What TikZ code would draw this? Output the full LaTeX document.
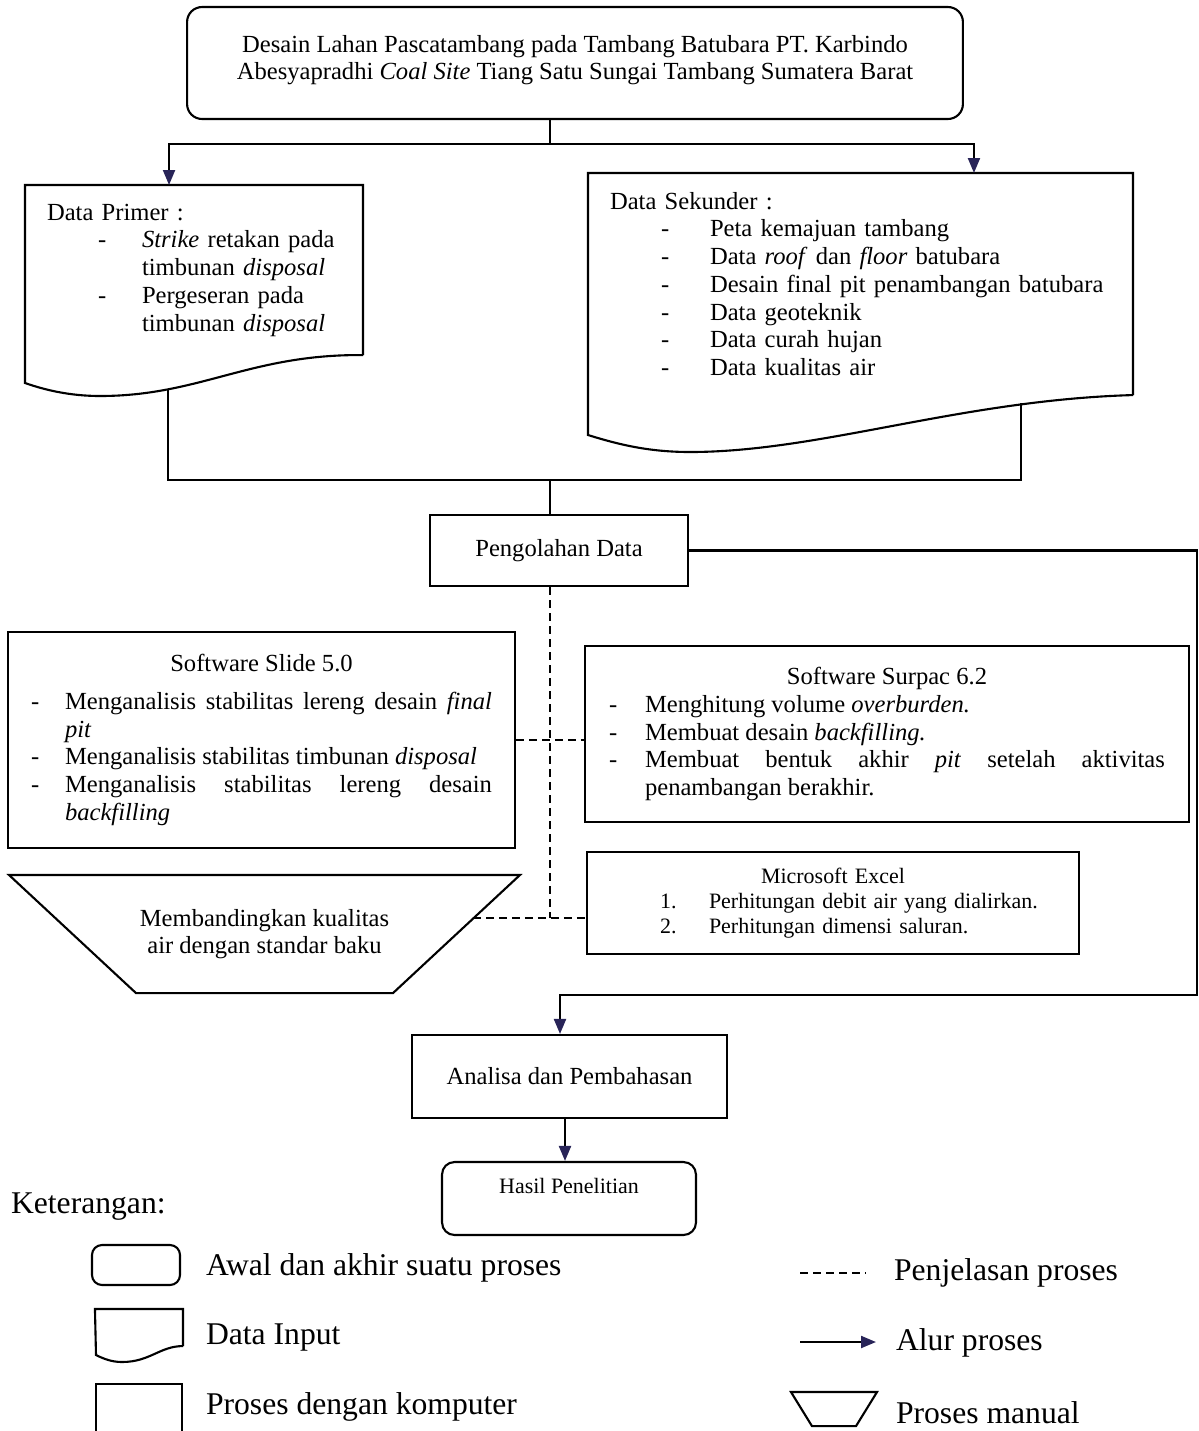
\documentclass[tikz,border=0pt]{standalone}
\usepackage{fontspec}
\setmainfont{Liberation Serif}
\usetikzlibrary{arrows.meta}
\definecolor{tipblue}{RGB}{40,36,88}
\newcommand{\bodyfont}{\fontsize{14}{15.8}\selectfont}
\newcommand{\smallerfont}{\fontsize{12.5}{14.2}\selectfont}
\newcommand{\legfont}{\fontsize{18}{21}\selectfont}
% one dash item with hanging indent
\newcommand{\dashitem}[2]{\par\noindent\hangindent=#1\hangafter=1 \makebox[#1][l]{-}#2\par}
\begin{document}
\begin{tikzpicture}[x=0.02cm, y=-0.02cm, line width=1.2pt, font=\bodyfont,
    procbox/.style={draw, inner sep=0pt},
    termbox/.style={draw, rounded corners=0.3cm, inner sep=0pt},
    docbox/.style={inner sep=0pt, inner xsep=0.42cm, align=left},
    legtext/.style={font=\legfont, anchor=west, inner sep=0pt},
    link/.style={line width=1.2pt},
    flow/.style={line width=1.2pt, -{Triangle[length=0.3cm,width=0.24cm,color=tipblue]}},
    expl/.style={line width=1.2pt, dash pattern=on 0.16cm off 0.1cm}]
    \useasboundingbox (0,0) rectangle (1199,1431);

    % the title
    \node[termbox, minimum width=15.52cm, minimum height=2.24cm, align=center,
          font=\fontsize{14}{15.3}\selectfont] (title) at (575,63)
        {Desain Lahan Pascatambang pada Tambang Batubara PT. Karbindo\\
         Abesyapradhi \textit{Coal Site} Tiang Satu Sungai Tambang Sumatera Barat\\[-0.3cm]};

    % the input data (outlines drawn below)
    \node[docbox, text width=5.88cm, minimum height=3.36cm, anchor=north west] (primer) at (25,185)
        {Data Primer :\\
         \hspace*{1.02cm}\makebox[0.88cm][l]{-}\textit{Strike} retakan pada\\
         \hspace*{1.9cm}timbunan \textit{disposal}\\
         \hspace*{1.02cm}\makebox[0.88cm][l]{-}Pergeseran pada\\
         \hspace*{1.9cm}timbunan \textit{disposal}};
    \node[docbox, text width=10.02cm, minimum height=4.4cm, anchor=north west] (sekunder) at (588,173)
        {Data Sekunder :\\
         \hspace*{1.02cm}\makebox[0.98cm][l]{-}Peta kemajuan tambang\\
         \hspace*{1.02cm}\makebox[0.98cm][l]{-}Data \textit{roof} dan \textit{floor} batubara\\
         \hspace*{1.02cm}\makebox[0.98cm][l]{-}Desain final pit penambangan batubara\\
         \hspace*{1.02cm}\makebox[0.98cm][l]{-}Data geoteknik\\
         \hspace*{1.02cm}\makebox[0.98cm][l]{-}Data curah hujan\\
         \hspace*{1.02cm}\makebox[0.98cm][l]{-}Data kualitas air};
    \draw[link] (primer.south east) -- (primer.north east) -- (primer.north west) -- (25,383)
        .. controls (45,390) and (70,396) .. (100,396)
        .. controls (200,396) and (250,354) .. (primer.south east);
    \draw[link] (sekunder.south east) -- (sekunder.north east) -- (sekunder.north west) -- (588,435)
        .. controls (620,445) and (650,452) .. (690,452)
        .. controls (820,452) and (960,400) .. (sekunder.south east);

    % processing
    \node[procbox, minimum width=5.16cm, minimum height=1.42cm] (proc) at (559,550.5) {Pengolahan Data};

    \node[procbox, minimum width=10.14cm, minimum height=4.32cm, text width=9.22cm, align=justify] (slide) at (261.5,740)
        {\centerline{Software Slide 5.0}\vspace{0.2cm}
         \dashitem{0.68cm}{Menganalisis stabilitas lereng desain \textit{final}\linebreak \textit{pit}}
         \dashitem{0.68cm}{Menganalisis stabilitas timbunan \textit{disposal}}
         \dashitem{0.68cm}{Menganalisis stabilitas lereng desain\linebreak \textit{backfilling}}};
    \node[procbox, minimum width=12.08cm, minimum height=3.52cm, text width=11.12cm, align=justify] (surpac) at (887,734)
        {\centerline{Software Surpac 6.2}
         \dashitem{0.72cm}{Menghitung volume \textit{overburden.}}
         \dashitem{0.72cm}{Membuat desain \textit{backfilling.}}
         \dashitem{0.72cm}{Membuat bentuk akhir \textit{pit} setelah aktivitas\linebreak penambangan berakhir.}};
    \node[procbox, minimum width=9.84cm, minimum height=2.04cm, text width=9.84cm, align=left,
          font=\smallerfont] (excel) at (833,903)
        {\centerline{Microsoft Excel}
         \hspace*{1.46cm}\makebox[0.98cm][l]{1.}Perhitungan debit air yang dialirkan.\\
         \hspace*{1.46cm}\makebox[0.98cm][l]{2.}Perhitungan dimensi saluran.};

    \node[inner sep=0pt, minimum width=10.18cm, minimum height=2.32cm, align=center] (manual) at (264.5,934)
        {Membandingkan kualitas\\air dengan standar baku};
    \draw[link] (manual.north west) -- (manual.north east) -- ([xshift=-2.54cm]manual.south east)
        -- ([xshift=2.54cm]manual.south west) -- cycle;

    % results
    \node[procbox, minimum width=6.3cm, minimum height=1.66cm] (analisa) at (569.5,1076.5) {Analisa dan Pembahasan};
    \node[termbox, rounded corners=0.25cm, minimum width=5.08cm, minimum height=1.46cm, text depth=0.5cm,
          font=\smallerfont] (hasil) at (569,1198.5) {Hasil Penelitian};

    % the flow lines
    \draw[link] ([xshift=-0.5cm]title.south) -- ++(0,24) coordinate (split);
    \draw[flow] (split) -| ([xshift=-0.5cm]primer.north);
    \draw[flow] (split) -| ([xshift=2.27cm]sekunder.north);

    \coordinate (pbot) at (168,389);
    \coordinate (sbot) at (1021,403);
    \coordinate (merge) at (550,480);
    \draw[link] (pbot) -- (pbot |- merge) -- (sbot |- merge) -- (sbot);
    \draw[link] (merge) -- (proc.north -| merge);

    \coordinate (rtop) at (1197,550.5);
    \coordinate (rbot) at (1197,995);
    \draw[flow] (proc.east) -- (rtop) -- (rbot) -| ([xshift=-0.19cm]analisa.north);
    \draw[flow] ([xshift=-0.09cm]analisa.south) -- ([xshift=-0.09cm]analisa.south |- hasil.north);

    % the dashed explanation lines
    \coordinate (medge) at (473,918);
    \draw[expl] (proc.south -| merge) -- (merge |- medge);
    \draw[expl] (slide.east) -- (slide.east -| surpac.west);
    \draw[expl] (medge) -- (medge -| excel.west);

    % the legend
    \node[font=\legfont, anchor=west, inner sep=0pt] (ket) at (10,1207) {Keterangan:};

    \node[termbox, rounded corners=0.2cm, minimum width=1.76cm, minimum height=0.8cm] (lterm) at (136,1265) {};
    \node[legtext] (ltermtxt) at (205,1268) {Awal dan akhir suatu proses};

    \node[inner sep=0pt, minimum width=1.72cm, minimum height=0.7cm] (ldoc) at (139,1327.5) {};
    \draw[link] (ldoc.south east) -- (ldoc.north east) -- (ldoc.north west) -- (96,1355)
        .. controls (104,1359) and (112,1362) .. (122,1362)
        .. controls (150,1362) and (160,1346) .. (ldoc.south east);
    \node[legtext] (ldoctxt) at (205,1337) {Data Input};

    \node[procbox, minimum width=1.72cm, minimum height=0.98cm, anchor=north] (lproc) at (139,1383) {};
    \node[legtext] (lproctxt) at (205,1407) {Proses dengan komputer};

    \coordinate (ldashA) at (800,1273);
    \coordinate (ldashB) at (866,1273);
    \draw[expl, line width=1pt] (ldashA) -- (ldashB);
    \node[legtext] (ldashtxt) at (893,1273) {Penjelasan proses};

    \coordinate (larrA) at (800,1342);
    \coordinate (larrB) at (876,1342);
    \draw[flow] (larrA) -- (larrB);
    \node[legtext] (larrtxt) at (895,1343) {Alur proses};

    \node[inner sep=0pt, minimum width=1.68cm, minimum height=0.64cm] (lman) at (834,1409) {};
    \draw[link] (lman.north west) -- (lman.north east) -- ([xshift=-0.42cm]lman.south east)
        -- ([xshift=0.42cm]lman.south west) -- cycle;
    \node[legtext] (lmantxt) at (895,1413) {Proses manual};
\end{tikzpicture}
\end{document}
